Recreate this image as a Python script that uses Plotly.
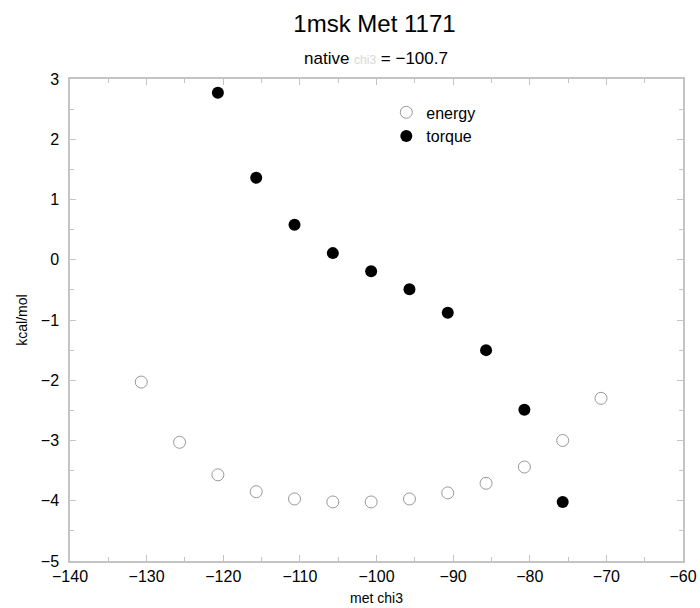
import plotly.graph_objects as go

native = -100.7
offsets = [-30, -25, -20, -15, -10, -5, 0, 5, 10, 15, 20, 25, 30]
energy_x = [native + o for o in offsets]
energy_y = [-2.03, -3.03, -3.57, -3.85, -3.97, -4.02, -4.02, -3.97, -3.87, -3.71, -3.44, -3.0, -2.3]

torque_x = [native + o for o in offsets[2:12]]
torque_y = [2.77, 1.36, 0.58, 0.11, -0.19, -0.49, -0.88, -1.5, -2.49, -4.02]

font = "Liberation Sans, Arial, Helvetica, sans-serif"
frame = "#c4c4c4"

fig = go.Figure()
fig.add_trace(go.Scatter(
    x=energy_x, y=energy_y, mode="markers", name="energy",
    marker=dict(symbol="circle", size=12, color="white",
                line=dict(color="#999999", width=1)),
))
fig.add_trace(go.Scatter(
    x=torque_x, y=torque_y, mode="markers", name="torque",
    marker=dict(symbol="circle", size=12, color="black",
                line=dict(color="black", width=0)),
))

axis_common = dict(
    showline=True, linecolor=frame, linewidth=1.5, mirror="ticks",
    ticks="inside", ticklen=6, tickcolor=frame, tickwidth=1,
    showgrid=False, zeroline=False,
    tickfont=dict(family=font, size=16, color="black"),
    ticklabeloverflow="allow", automargin=False,
)

fig.update_xaxes(
    range=[-140, -60], dtick=10, tick0=-140,
    minor=dict(ticks="inside", dtick=5, ticklen=4, tickcolor=frame),
    title=dict(text="met chi3", font=dict(family=font, size=14, color="black"), standoff=9),
    **axis_common,
)
fig.update_yaxes(
    range=[-5, 3], dtick=1, tick0=-5,
    minor=dict(ticks="inside", dtick=0.5, ticklen=4, tickcolor=frame),
    title=dict(text="kcal/mol", font=dict(family=font, size=14, color="black"), standoff=10),
    ticklabelstandoff=6,
    **axis_common,
)

fig.update_layout(
    width=700, height=608,
    margin=dict(l=70, r=17, t=79, b=47, autoexpand=False),
    paper_bgcolor="white", plot_bgcolor="white",
    font=dict(family=font, color="black"),
    title=dict(text="1msk Met 1171", x=0.535, xanchor="center", y=0.962, yanchor="middle",
               font=dict(family=font, size=24, color="black")),
    showlegend=True,
    legend=dict(x=0.516, y=0.966, xanchor="left", yanchor="top",
                bgcolor="rgba(0,0,0,0)", font=dict(family=font, size=16, color="black"),
                itemwidth=30, tracegroupgap=0),
    annotations=[dict(
        text="native <span style='color:#d8d8d8;font-size:12px'>chi3</span> = \u2212100.7",
        xref="paper", yref="paper", x=0.499, y=1.0415, xanchor="center", yanchor="middle",
        showarrow=False, font=dict(family=font, size=17, color="black"),
    )],
)

fig.write_html("out.html")
